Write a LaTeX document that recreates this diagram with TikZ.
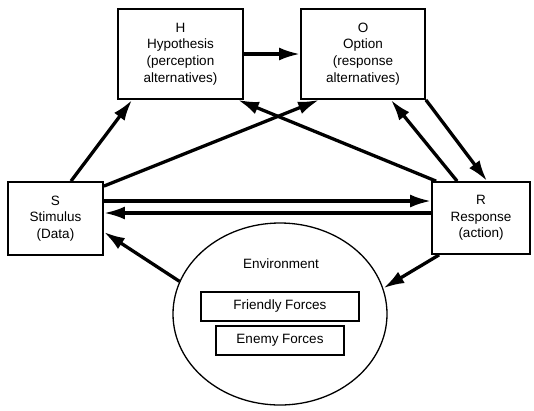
\documentclass[tikz,border=0pt]{standalone}
\usepackage{fontspec}
\setmainfont{Liberation Sans}
\usetikzlibrary{arrows.meta,shapes.geometric}
\begin{document}
\begin{tikzpicture}[x=1pt,y=-1pt,
  font=\fontsize{13.5}{16.7}\selectfont,
  box/.style={draw,line width=1.8pt,align=center,inner sep=0pt},
  force/.style={draw,align=center,inner sep=0pt,minimum height=29pt},
  flow/.style={line width=3.3pt,-{Latex[length=21pt,width=13pt]}},
]
\useasboundingbox (0,0) rectangle (534,410);
\fill[white] (0,0) rectangle (534,410);

% decision boxes
\node[box,minimum width=125pt,minimum height=90pt] (H) at (180.5,54)
  {H\\Hypothesis\\(perception\\alternatives)};
\node[box,minimum width=124pt,minimum height=90pt] (O) at (363,54)
  {O\\Option\\(response\\alternatives)};
\node[box,minimum width=95pt,minimum height=73pt] (S) at (55.5,218.5)
  {S\\Stimulus\\(Data)};
\node[box,minimum width=98pt,minimum height=72pt] (R) at (481,218)
  {R\\Response\\(action)};

% environment
\node[ellipse,draw,line width=1.3pt,minimum width=214pt,minimum height=182pt,inner sep=0pt] (Env) at (280,314) {};
\node (EnvLabel) at (281,264) {Environment};
\node[force,line width=2.4pt,minimum width=158pt] (F) at (280,306.5) {Friendly Forces};
\node[force,line width=1.4pt,minimum width=128pt] (E) at (280,340.5) {Enemy Forces};

% connectors
\draw[flow] (H.east) -- (O.west);
\draw[flow] ([xshift=15.5pt]S.north) -- ([xshift=15pt]H.south west);
\draw[flow] ([yshift=-5pt]S.north east) -- ([xshift=19pt]O.south west);
\draw[flow] ([xshift=5pt]R.north west) -- ([xshift=-6pt]H.south east);
\draw[flow] ([xshift=26pt]R.north west) -- ([xshift=-35pt]O.south east);
\draw[flow] (O.south east) -- ([xshift=56pt]R.north west);
\draw[flow] ([yshift=17.5pt]S.east) -- ([yshift=17pt]R.west);
\draw[flow] ([yshift=5pt]R.west) -- ([yshift=5.5pt]S.east);
\draw[flow] (Env.162) -- ([yshift=-13.5pt]S.east);
\draw[flow] ([xshift=8pt]R.south west) -- (Env.14);
\end{tikzpicture}
\end{document}
